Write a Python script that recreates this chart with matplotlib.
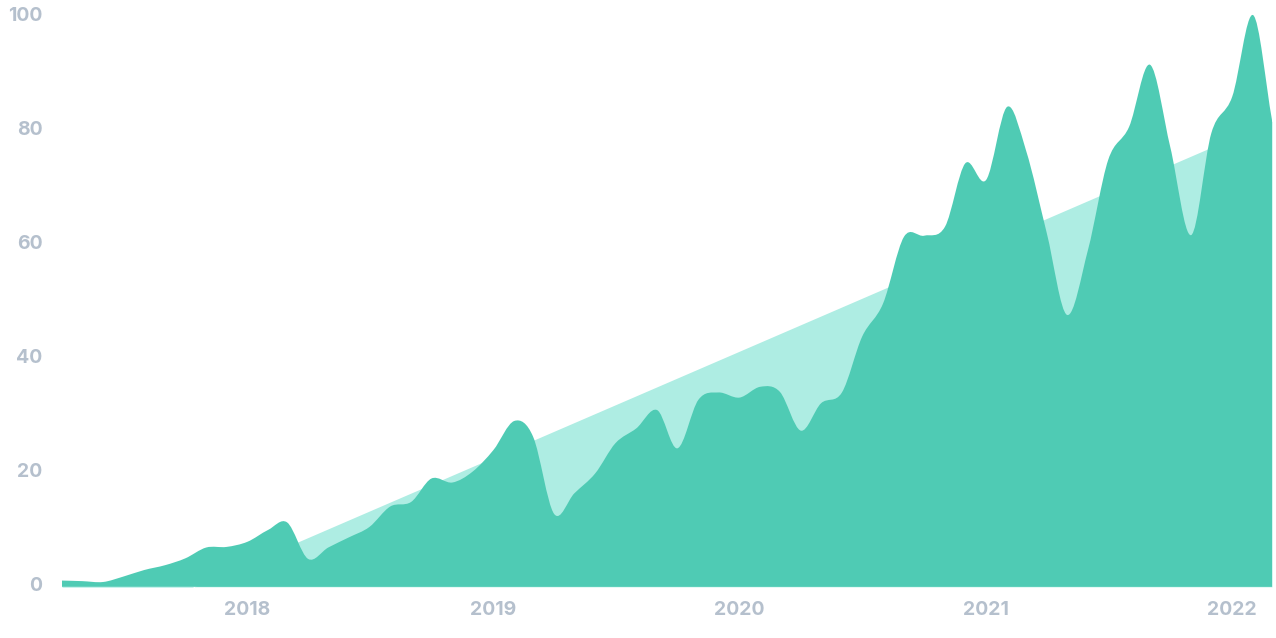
import numpy as np
import pandas as pd
import matplotlib
matplotlib.use("Agg")
import matplotlib.pyplot as plt
import matplotlib.dates as mdates
from matplotlib.path import Path
from matplotlib.patches import PathPatch

# monthly values, Apr 2017 .. Mar 2022
months = pd.date_range("2017-04-01", "2022-03-01", freq="MS")
values = [0.6, 0.5, 0.35, 1.3, 2.45, 3.3, 4.5, 6.4, 6.5, 7.4,
          9.5, 10.8, 4.4, 6.4, 8.2, 10.0, 13.6, 14.4, 18.5, 17.8,
          19.7, 23.5, 28.6, 25.8, 12.3, 15.9, 19.4, 24.7, 27.3, 30.5,
          23.8, 32.3, 33.6, 32.7, 34.6, 33.7, 26.9, 31.7, 33.6, 43.4,
          49.2, 60.9, 61.1, 62.7, 73.8, 70.9, 83.7, 76.1, 61.5, 47.2,
          58.6, 74.4, 80.2, 91.1, 76.7, 61.2, 79.1, 85.5, 99.8, 81.4]

# trend line end points
trend_dates = [months[0], months[-1]]
trend_values = [-10.5, 81.2]

yticks = [0, 20, 40, 60, 80, 100]

green = "#4fcbb4"
light = "#aeede3"
label_color = "#b5c0cd"
base = -0.5


def smooth_area(x, y, bottom):
    # catmull-rom style curve drawn as bezier segments
    x = np.asarray(x, dtype=float)
    y = np.asarray(y, dtype=float)
    n = len(x)
    h = np.diff(x)
    t = np.zeros(n)
    for i in range(1, n - 1):
        t[i] = (y[i + 1] - y[i - 1]) / (x[i + 1] - x[i - 1])
    t[0] = (y[1] - y[0]) / h[0]
    t[-1] = (y[-1] - y[-2]) / h[-1]

    verts = [(x[0], bottom), (x[0], y[0])]
    codes = [Path.MOVETO, Path.LINETO]
    for i in range(n - 1):
        dx = h[i] / 3
        verts += [(x[i] + dx, y[i] + dx * t[i]),
                  (x[i + 1] - dx, y[i + 1] - dx * t[i + 1]),
                  (x[i + 1], y[i + 1])]
        codes += [Path.CURVE4] * 3
    verts += [(x[-1], bottom), (x[0], bottom)]
    codes += [Path.LINETO, Path.CLOSEPOLY]
    return Path(verts, codes)


fig = plt.figure(figsize=(12.76, 6.38), dpi=100)
ax = fig.add_axes([62 / 1276, 0.0802, 1210 / 1276, 0.9113])

xnum = mdates.date2num(months)
ax.fill_between(mdates.date2num(trend_dates), base, trend_values,
                color=light, linewidth=0, zorder=1)
ax.add_patch(PathPatch(smooth_area(xnum, values, base),
                       facecolor=green, edgecolor="none", zorder=2))

ax.set_xlim(xnum[0], xnum[-1])
ax.set_ylim(base, 101.5)
ax.set_yticks(yticks)
ax.xaxis.set_major_locator(mdates.YearLocator())
ax.xaxis.set_major_formatter(mdates.DateFormatter("%Y"))

for side in ["top", "right", "bottom", "left"]:
    ax.spines[side].set_visible(False)
ax.tick_params(axis="both", length=0, labelcolor=label_color, labelsize=14)
ax.tick_params(axis="y", pad=14)
ax.tick_params(axis="x", pad=10)
for lbl in ax.get_xticklabels() + ax.get_yticklabels():
    lbl.set_fontfamily("Inter")
    lbl.set_fontweight("bold")

fig.savefig("out.png", dpi=100)
